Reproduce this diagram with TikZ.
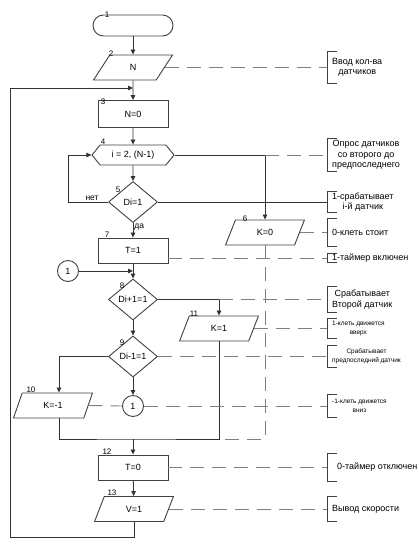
\documentclass[tikz,border=0pt]{standalone}
\usepackage{fontspec}
\setmainfont{Liberation Sans}
\usetikzlibrary{shapes.geometric,shapes.misc,shapes.symbols,arrows.meta}

\tikzset{
  blk/.style={draw=black!75,line width=0.9pt,font=\fontsize{9}{10}\selectfont,inner sep=1pt},
  proc/.style={blk,rectangle,minimum width=70pt,minimum height=25pt},
  io/.style={blk,trapezium,trapezium left angle=70,trapezium right angle=110,
    trapezium stretches=true,minimum width=79pt,minimum height=25pt},
  cond/.style={blk,diamond,minimum width=49pt,minimum height=41pt,inner sep=0pt},
  term/.style={blk,rounded rectangle,minimum width=82pt,minimum height=21pt},
  loopbox/.style={blk,signal,signal to=west and east,signal pointer angle=102,
    minimum width=82pt,minimum height=20pt},
  conn/.style={blk,circle,minimum size=21pt,inner sep=0pt},
  num/.style={font=\fontsize{8}{8}\selectfont,inner sep=0pt},
  lbl/.style={font=\fontsize{8.5}{9}\selectfont,inner sep=1pt},
  note/.style={anchor=west,align=center,minimum height=#1,inner xsep=5pt,inner ysep=0pt,
    font=\fontsize{9}{10.5}\selectfont},
  small/.style={font=\fontsize{6.5}{9}\selectfont},
  line/.style={draw=black!80,line width=0.8pt},
  remark/.style={draw=black!50,line width=0.9pt,dash pattern=on 14pt off 8pt},
  brk/.style={draw=black!75,line width=0.9pt},
}

\begin{document}
\begin{tikzpicture}[x=1pt,y=-1pt,>={Triangle[length=5pt,width=4.5pt]}]
\useasboundingbox (0,0) rectangle (419,544);

% blocks of the algorithm
\node [term] (n1) at(133,25.5){};
\node [io] (n2) at(133,67.5){N};
\node [proc,minimum height=27pt] (n3) at(133,114){N=0};
\node [loopbox] (n4) at(133,155){i = 2, (N-1)};
\node [cond] (n5) at(133,202){Di=1};
\node [io] (n6) at(265,232.5){K=0};
\node [proc] (n7) at(133,250.5){T=1};
\node [conn] (c1) at(68,271){1};
\node [cond] (n8) at(133,299.5){Di+1=1};
\node [io] (n11) at(219,328.5){K=1};
\node [cond] (n9) at(133,356.5){Di-1=1};
\node [io] (n10) at(53,405.5){K=-1};
\node [conn] (c2) at(133,406){1};
\node [proc] (n12) at(133,467.5){T=0};
\node [io] (n13) at(134,509){V=1};

% block numbers
\node [num] (l1) at(107,15){1};
\node [num] (l2) at(111,54){2};
\node [num] (l3) at(103,102){3};
\node [num] (l4) at(103,142){4};
\node [num] (l5) at(118,190){5};
\node [num] (l6) at(245,219){6};
\node [num] (l7) at(107,235){7};
\node [num] (l8) at(122,286){8};
\node [num] (l9) at(122,343){9};
\node [num] (l10) at(31,390){10};
\node [num] (l11) at(194,314){11};
\node [num] (l12) at(107,452){12};
\node [num] (l13) at(112,493){13};

% comments
\node [note=31pt] (a2) at(327,67.5){Ввод кол-ва\\датчиков};
\node [note=32pt] (a4) at(327,155){Опрос датчиков\\со второго до\\предпоследнего};
\node [note=21pt] (a5) at(327,202){1-срабатывает\\i-й датчик};
\node [note=28pt] (a6) at(327,232.5){0-клеть стоит};
\node [note=8pt] (a7) at(327,258){1-таймер включен};
\node [note=26pt] (a8) at(327,299.5){Срабатывает\\Второй датчик};
\node [note=20pt,small] (a11) at(327,328.5){1-клеть движется\\вверх};
\node [note=21pt,small] (a9) at(327,356.5){Срабатывает\\предпоследний датчик};
\node [note=22pt,small] (a10) at(327,406){-1-клеть движется\\вниз};
\node [note=28pt,inner xsep=10pt] (a12) at(327,467.5){0-таймер отключен};
\node [note=25pt] (a13) at(327,509){Вывод скорости};
\foreach \a in {a2,a4,a5,a6,a7,a8,a11,a9,a10,a12,a13}
  \draw[brk] ([xshift=10pt]\a.north west) -- (\a.north west) -- (\a.south west) -- ([xshift=10pt]\a.south west);

% junctions
\coordinate (j2) at(133,88);
\coordinate (lp) at(10,537);
\coordinate (j10) at(133,439);
\coordinate (j4) at(n6.north |- n4.east);
\coordinate (j8) at(n11.north |- n8.east);

% flow lines
\draw[line,->](n1) -- (n2);
\draw[line,->](n2) -- (n3);
\draw[line,->](n3) -- (n4);
\draw[line,->](n4) -- (n5);
\draw[line,->](n5) -- node[lbl,right,pos=0.3]{да} (n7);
\draw[line,->](n5.west) -- node[lbl,above,pos=0.4]{нет} ++(-40,0) |- (n4.west);
\draw[line,->](n4.east) -- (j4) -- (n6.north);
\draw[line](n5.east) -- (a5.west);
\draw[line,->](n7) -- (n8);
\draw[line,->](c1) -- (c1 -| n8.north);
\draw[line,->](n8.east) -- (j8) -- (n11.north);
\draw[line,->](n8) -- (n9);
\draw[line,->](n9.west) -| ([xshift=6pt]n10.north);
\draw[line,->](n9) -- (c2);
\draw[line]([xshift=6pt]n10.south) |- (j10) -| (n11.south);
\draw[line,->](j10) -- (n12);
\draw[line,->](n12) -- (n13);
\draw[line,->](n13.south) |- (lp) |- (j2);

% dashed links to comments
\draw[remark](n2.east) -- (a2.west);
\draw[remark](j4) -- (a4.west);
\draw[remark](n6.east) -- (a6.west);
\draw[remark](n6.south) -- (n6.south |- j10) -- (n11.south |- j10);
\draw[remark](n7.east |- a7.west) -- (a7.west);
\draw[remark](j8) -- (a8.west);
\draw[remark](n11.east) -- (a11.west);
\draw[remark](n9.east) -- (a9.west);
\draw[remark](n10.east) -- (c2.west);
\draw[remark](c2.east) -- (a10.west);
\draw[remark](n12.east) -- (a12.west);
\draw[remark](n13.east) -- (a13.west);
\end{tikzpicture}
\end{document}
